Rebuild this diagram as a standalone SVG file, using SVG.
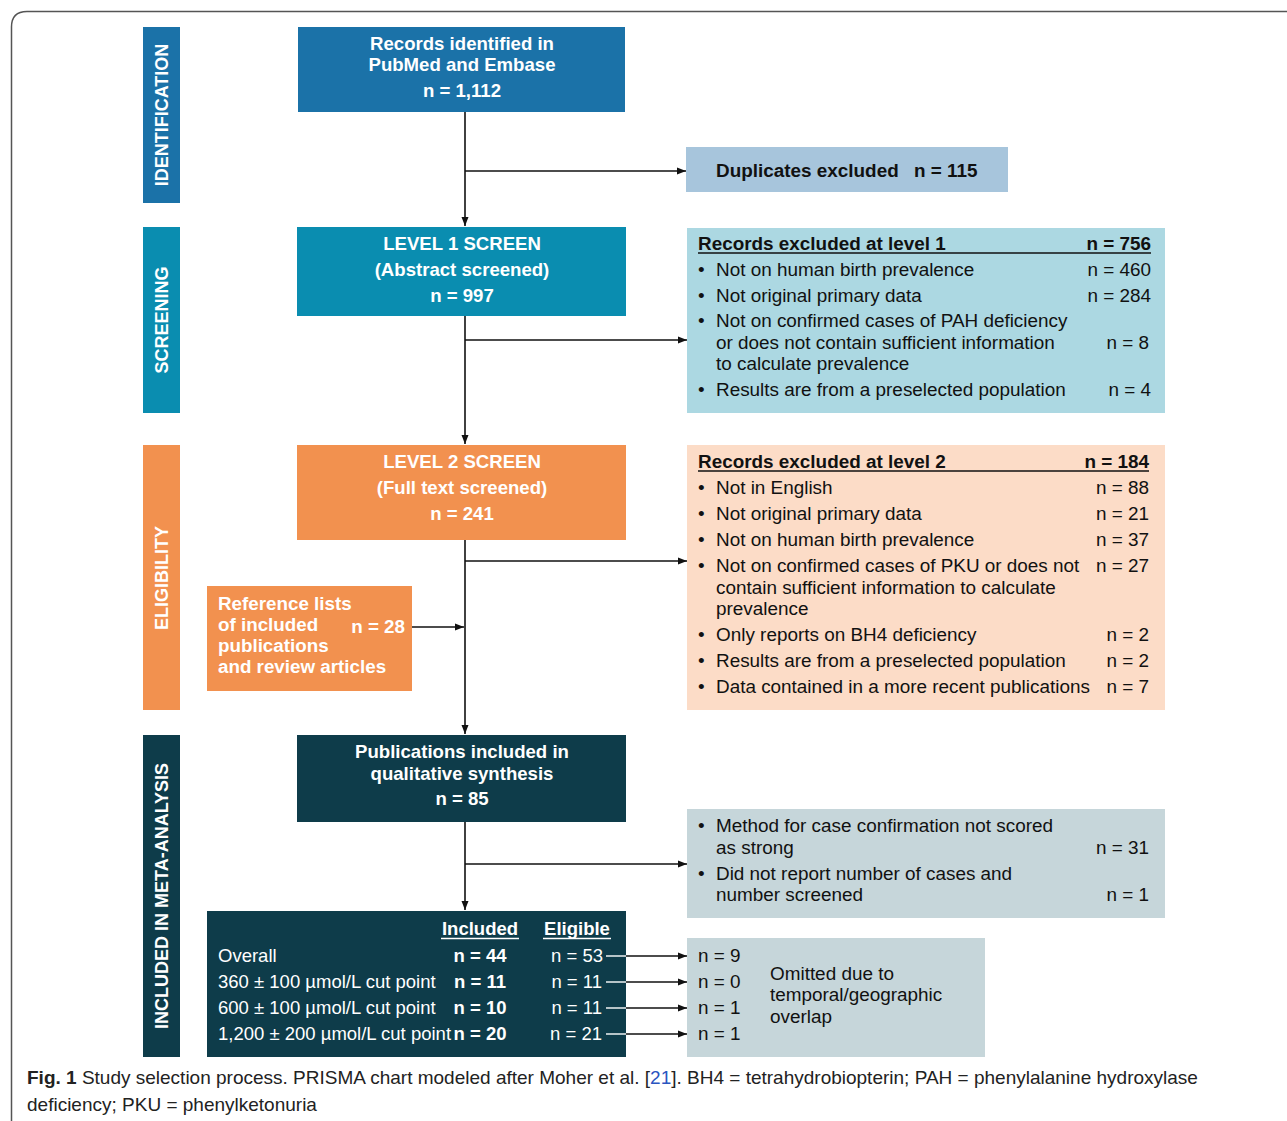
<svg xmlns="http://www.w3.org/2000/svg" width="1287" height="1121" viewBox="0 0 1287 1121">
<defs>
<marker id="ah" markerUnits="userSpaceOnUse" markerWidth="10" markerHeight="8" refX="9" refY="4" orient="auto">
<path d="M0,0.5 L9,4 L0,7.5 Z" fill="#111"/>
</marker>
<style>
text{font-family:"Liberation Sans",Arial,sans-serif;}
.side{font-size:18px;font-weight:bold;fill:#fff;text-anchor:middle;}
.ttl{font-size:18.6px;font-weight:bold;fill:#fff;text-anchor:middle;}
.wb{font-size:18.8px;font-weight:bold;fill:#fff;}
.tb{font-size:18.5px;font-weight:bold;fill:#fff;}
.w{font-size:18.5px;fill:#fff;}
.b{font-size:18.9px;fill:#111;}
.bb{font-size:18.9px;font-weight:bold;fill:#111;}
.r{text-anchor:end;}
.m{text-anchor:middle;}
.conn{stroke:#111;stroke-width:1.6;fill:none;}
.ul{stroke:#111;stroke-width:1.4;}
.cap{font-family:"Liberation Sans",Arial,sans-serif;font-size:19px;fill:#222;}
</style>
</defs>
<rect x="0" y="0" width="1287" height="1121" fill="#fff"/>
<path d="M11.5,1121 V27 Q11.5,11.5 27,11.5 H1287" fill="none" stroke="#555" stroke-width="1.5"/>

<g id="side-identification"><rect x="143" y="27" width="37" height="176" fill="#1b72a8"/><text class="side" transform="translate(168,115) rotate(-90)">IDENTIFICATION</text></g>
<g id="side-screening"><rect x="143" y="227" width="37" height="186" fill="#0a8db0"/><text class="side" transform="translate(168,320) rotate(-90)">SCREENING</text></g>
<g id="side-eligibility"><rect x="143" y="445" width="37" height="265" fill="#f2914f"/><text class="side" transform="translate(168,578) rotate(-90)">ELIGIBILITY</text></g>
<g id="side-included"><rect x="143" y="735" width="37" height="322" fill="#0e3c4a"/><text class="side" transform="translate(168,896) rotate(-90)">INCLUDED IN META-ANALYSIS</text></g>

<g id="connectors">
<line class="conn" x1="465" y1="112" x2="465" y2="226" marker-end="url(#ah)"/>
<line class="conn" x1="465" y1="171" x2="686" y2="171" marker-end="url(#ah)"/>
<line class="conn" x1="465" y1="316" x2="465" y2="444" marker-end="url(#ah)"/>
<line class="conn" x1="465" y1="340" x2="687" y2="340" marker-end="url(#ah)"/>
<line class="conn" x1="465" y1="540" x2="465" y2="734" marker-end="url(#ah)"/>
<line class="conn" x1="465" y1="561" x2="687" y2="561" marker-end="url(#ah)"/>
<line class="conn" x1="412" y1="627" x2="464" y2="627" marker-end="url(#ah)"/>
<line class="conn" x1="465" y1="822" x2="465" y2="910" marker-end="url(#ah)"/>
<line class="conn" x1="465" y1="864" x2="687" y2="864" marker-end="url(#ah)"/>
<line class="conn" x1="626" y1="956" x2="687" y2="956" marker-end="url(#ah)"/>
<line class="conn" x1="626" y1="982" x2="687" y2="982" marker-end="url(#ah)"/>
<line class="conn" x1="626" y1="1008" x2="687" y2="1008" marker-end="url(#ah)"/>
<line class="conn" x1="626" y1="1034" x2="687" y2="1034" marker-end="url(#ah)"/>
</g>

<g id="records-identified"><rect x="298" y="27" width="327" height="85" fill="#1b72a8"/>
<text class="ttl" x="462" y="50">Records identified in</text>
<text class="ttl" x="462" y="71">PubMed and Embase</text>
<text class="ttl" x="462" y="97">n = 1,112</text></g>

<g id="duplicates"><rect x="686" y="147" width="322" height="45" fill="#a7c5dc"/>
<text class="bb" x="716" y="177">Duplicates excluded</text><text class="bb" x="914" y="177">n = 115</text></g>

<g id="level1"><rect x="297" y="227" width="329" height="89" fill="#0a8db0"/>
<text class="ttl" x="462" y="250">LEVEL 1 SCREEN</text>
<text class="ttl" x="462" y="276">(Abstract screened)</text>
<text class="ttl" x="462" y="302">n = 997</text></g>

<g id="excluded-level1"><rect x="687" y="228" width="478" height="185" fill="#acd8e2"/>
<text class="bb" x="698" y="250">Records excluded at level 1</text><text class="bb r" x="1151" y="250">n = 756</text>
<line class="ul" x1="698" y1="253" x2="1151" y2="253"/>
<text class="b" x="698" y="276">•</text><text class="b" x="716" y="276">Not on human birth prevalence</text><text class="b r" x="1151" y="276">n = 460</text>
<text class="b" x="698" y="302">•</text><text class="b" x="716" y="302">Not original primary data</text><text class="b r" x="1151" y="302">n = 284</text>
<text class="b" x="698" y="327">•</text><text class="b" x="716" y="327">Not on confirmed cases of PAH deficiency</text>
<text class="b" x="716" y="349">or does not contain sufficient information</text><text class="b r" x="1149" y="349">n = 8</text>
<text class="b" x="716" y="370">to calculate prevalence</text>
<text class="b" x="698" y="396">•</text><text class="b" x="716" y="396">Results are from a preselected population</text><text class="b r" x="1151" y="396">n = 4</text></g>

<g id="level2"><rect x="297" y="445" width="329" height="95" fill="#f2914f"/>
<text class="ttl" x="462" y="468">LEVEL 2 SCREEN</text>
<text class="ttl" x="462" y="494">(Full text screened)</text>
<text class="ttl" x="462" y="520">n = 241</text></g>

<g id="excluded-level2"><rect x="687" y="445" width="478" height="265" fill="#fcdcc7"/>
<text class="bb" x="698" y="468">Records excluded at level 2</text><text class="bb r" x="1149" y="468">n = 184</text>
<line class="ul" x1="698" y1="471" x2="1149" y2="471"/>
<text class="b" x="698" y="494">•</text><text class="b" x="716" y="494">Not in English</text><text class="b r" x="1149" y="494">n = 88</text>
<text class="b" x="698" y="520">•</text><text class="b" x="716" y="520">Not original primary data</text><text class="b r" x="1149" y="520">n = 21</text>
<text class="b" x="698" y="546">•</text><text class="b" x="716" y="546">Not on human birth prevalence</text><text class="b r" x="1149" y="546">n = 37</text>
<text class="b" x="698" y="572">•</text><text class="b" x="716" y="572">Not on confirmed cases of PKU or does not</text><text class="b r" x="1149" y="572">n = 27</text>
<text class="b" x="716" y="594">contain sufficient information to calculate</text>
<text class="b" x="716" y="615">prevalence</text>
<text class="b" x="698" y="641">•</text><text class="b" x="716" y="641">Only reports on BH4 deficiency</text><text class="b r" x="1149" y="641">n = 2</text>
<text class="b" x="698" y="667">•</text><text class="b" x="716" y="667">Results are from a preselected population</text><text class="b r" x="1149" y="667">n = 2</text>
<text class="b" x="698" y="693">•</text><text class="b" x="716" y="693">Data contained in a more recent publications</text><text class="b r" x="1149" y="693">n = 7</text></g>

<g id="reference-lists"><rect x="207" y="586" width="205" height="105" fill="#f2914f"/>
<text class="wb" x="218" y="610">Reference lists</text>
<text class="wb" x="218" y="631">of included</text>
<text class="wb" x="218" y="652">publications</text>
<text class="wb" x="218" y="673">and review articles</text>
<text class="wb" x="405" y="633" text-anchor="end">n = 28</text></g>

<g id="publications"><rect x="297" y="735" width="329" height="87" fill="#0e3c4a"/>
<text class="ttl" x="462" y="758">Publications included in</text>
<text class="ttl" x="462" y="780">qualitative synthesis</text>
<text class="ttl" x="462" y="805">n = 85</text></g>

<g id="excluded-meta"><rect x="687" y="809" width="478" height="109" fill="#c6d6da"/>
<text class="b" x="698" y="832">•</text><text class="b" x="716" y="832">Method for case confirmation not scored</text>
<text class="b" x="716" y="854">as strong</text><text class="b r" x="1149" y="854">n = 31</text>
<text class="b" x="698" y="880">•</text><text class="b" x="716" y="880">Did not report number of cases and</text>
<text class="b" x="716" y="901">number screened</text><text class="b r" x="1149" y="901">n = 1</text></g>

<g id="meta-table"><rect x="207" y="911" width="419" height="146" fill="#0e3c4a"/>
<text class="tb m" x="480" y="935">Included</text><line x1="441" y1="938.5" x2="519" y2="938.5" stroke="#fff" stroke-width="1.3"/>
<text class="tb m" x="577" y="935">Eligible</text><line x1="543" y1="938.5" x2="611" y2="938.5" stroke="#fff" stroke-width="1.3"/>
<text class="w" x="218" y="962">Overall</text><text class="tb m" x="480" y="962">n = 44</text><text class="w r" x="603" y="962">n = 53</text>
<text class="w" x="218" y="988">360 ± 100 µmol/L cut point</text><text class="tb m" x="480" y="988">n = 11</text><text class="w r" x="602" y="988">n = 11</text>
<text class="w" x="218" y="1014">600 ± 100 µmol/L cut point</text><text class="tb m" x="480" y="1014">n = 10</text><text class="w r" x="602" y="1014">n = 11</text>
<text class="w" x="218" y="1040">1,200 ± 200 µmol/L cut point</text><text class="tb m" x="480" y="1040">n = 20</text><text class="w r" x="602" y="1040">n = 21</text>
<g stroke="#fff" stroke-width="1.4"><line x1="606" y1="956" x2="626" y2="956"/><line x1="606" y1="982" x2="626" y2="982"/><line x1="606" y1="1008" x2="626" y2="1008"/><line x1="606" y1="1034" x2="626" y2="1034"/></g></g>

<g id="omitted"><rect x="687" y="938" width="298" height="119" fill="#c6d6da"/>
<text class="b" x="698" y="962">n = 9</text>
<text class="b" x="698" y="988">n = 0</text>
<text class="b" x="698" y="1014">n = 1</text>
<text class="b" x="698" y="1040">n = 1</text>
<text class="b" x="770" y="980">Omitted due to</text>
<text class="b" x="770" y="1001">temporal/geographic</text>
<text class="b" x="770" y="1023">overlap</text></g>

<g id="caption">
<text class="cap" x="27" y="1084"><tspan font-weight="bold">Fig. 1</tspan>   Study selection process. PRISMA chart modeled after Moher et al. [<tspan fill="#2a55c0">21</tspan>]. BH4 = tetrahydrobiopterin; PAH = phenylalanine hydroxylase</text>
<text class="cap" x="27" y="1111">deficiency; PKU = phenylketonuria</text>
</g>
</svg>
